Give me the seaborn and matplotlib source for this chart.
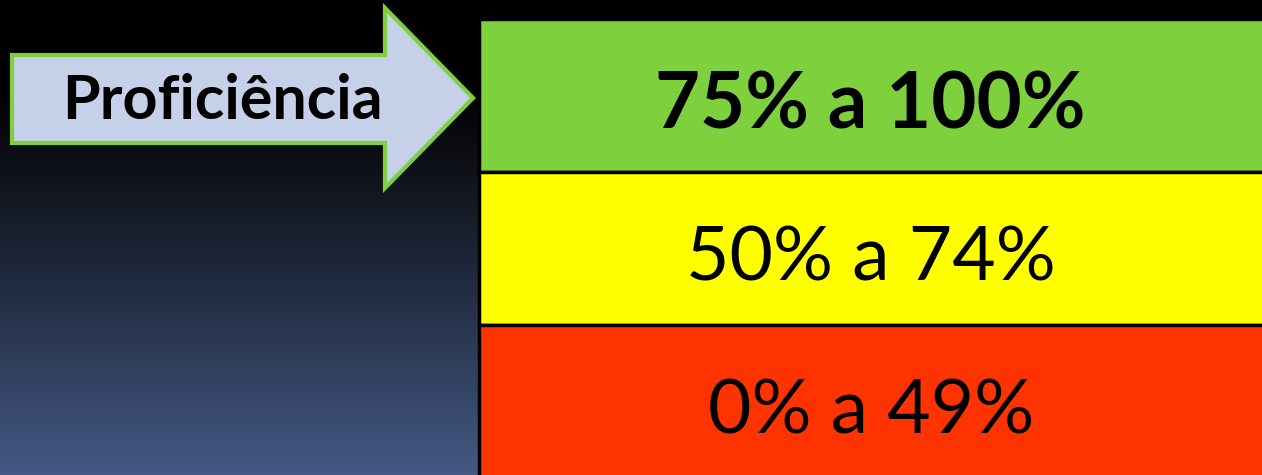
import numpy as np
import matplotlib.pyplot as plt
import seaborn as sns
from matplotlib.colors import LinearSegmentedColormap
from matplotlib.patches import Polygon

# dados do slide
faixas = ["75% a 100%", "50% a 74%", "0% a 49%"]
cores = ["#7ed13c", "#ffff00", "#ff3300"]
pesos = ["bold", "normal", "normal"]
titulo = "Proficiência"

sns.set_theme(style="white")
plt.rcParams["font.family"] = ["Lato", "DejaVu Sans"]

fig = plt.figure(figsize=(12.62, 4.75), dpi=100)

# fundo em degrade
fundo = fig.add_axes([0, 0, 1, 1])
cmap = LinearSegmentedColormap.from_list(
    "fundo",
    [(0, "#000000"), (0.18, "#000000"), (0.4, "#12161f"),
     (0.63, "#232f45"), (1, "#445983")],
)
grad = np.linspace(0, 1, 256).reshape(-1, 1)
fundo.imshow(grad, aspect="auto", cmap=cmap, extent=[0, 1262, 475, 0])
fundo.set_xlim(0, 1262)
fundo.set_ylim(475, 0)
fundo.axis("off")

# seta
seta = Polygon(
    [(12, 55), (385, 55), (385, 8), (473, 98), (385, 188), (385, 143), (12, 143)],
    closed=True, fc="#c6d0e8", ec="#7ed13c", lw=3, joinstyle="miter",
)
fundo.add_patch(seta)
fundo.text(222, 101, titulo, ha="center", va="center",
           fontsize=44, fontweight="bold", color="black")

# faixas de proficiencia
ax = fig.add_axes([477 / 1262, -3 / 475, 785 / 1262, 458 / 475])
sns.barplot(x=[1, 1, 1], y=faixas, hue=faixas, palette=cores, orient="h",
            width=1, ax=ax, legend=False, edgecolor="black", linewidth=2.5,
            saturation=1)
for p in ax.patches:
    p.set_clip_on(True)
    p.set_clip_box(ax.bbox)
ax.set_xlim(-0.003, 0.95)
ax.set_ylim(2.5, -0.495)
ax.axis("off")
for i, (txt, w) in enumerate(zip(faixas, pesos)):
    ax.text(0.5 * 0.95, i + 0.07, txt, ha="center", va="center",
            fontsize=56 if w == "bold" else 54, fontweight=w, color="black")

fig.savefig("out.png", dpi=100)
